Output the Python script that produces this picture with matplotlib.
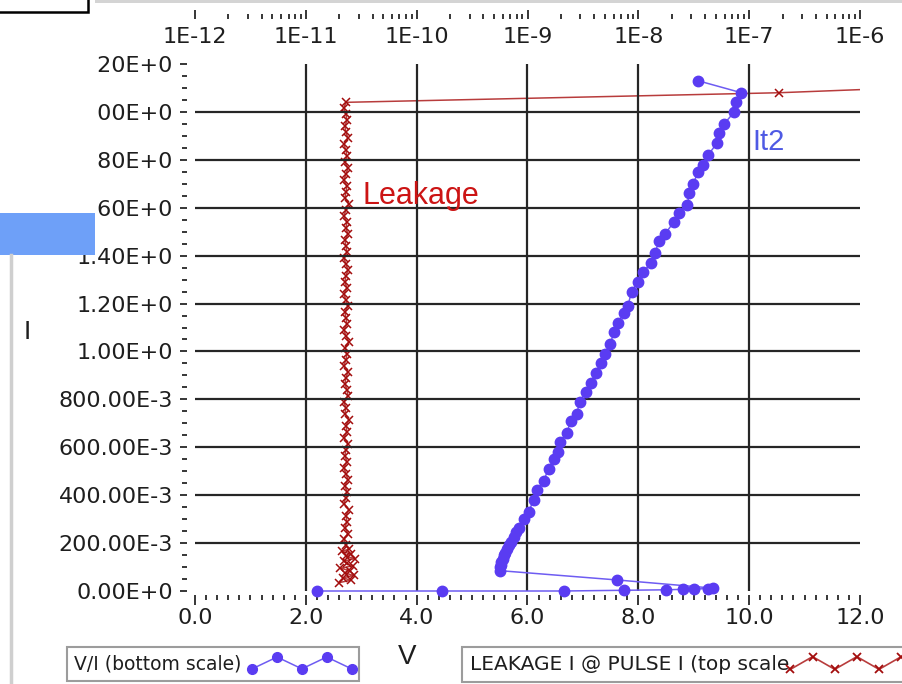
import numpy as np
import matplotlib
matplotlib.use("Agg")
import matplotlib.pyplot as plt
from matplotlib.lines import Line2D
from matplotlib.patches import Rectangle
from matplotlib.ticker import MultipleLocator, NullFormatter
from matplotlib.legend_handler import HandlerLine2D

# V/I curve (bottom scale): pulse voltage [V] vs pulse current [A]
vi_volts = [2.20, 4.45, 6.65, 7.75, 8.50, 8.80, 9.00, 9.25, 9.35, 7.62,
            5.50, 5.51, 5.52, 5.53, 5.55, 5.57, 5.60, 5.63, 5.66, 5.70,
            5.75, 5.80, 5.85, 5.93, 6.02, 6.11, 6.18, 6.29, 6.38, 6.47,
            6.55, 6.58, 6.71, 6.78, 6.89, 6.94, 7.05, 7.14, 7.23, 7.32,
            7.40, 7.49, 7.56, 7.63, 7.74, 7.81, 7.88, 7.99, 8.08, 8.23,
            8.30, 8.37, 8.48, 8.64, 8.73, 8.88, 8.92, 8.99, 9.08, 9.17,
            9.26, 9.42, 9.46, 9.55, 9.73, 9.76, 9.86, 9.08]
vi_amps = [0.000, 0.000, 0.000, 0.003, 0.005, 0.007, 0.008, 0.010, 0.012, 0.046,
           0.085, 0.100, 0.110, 0.120, 0.135, 0.150, 0.160, 0.175, 0.190, 0.205,
           0.225, 0.245, 0.265, 0.300, 0.330, 0.380, 0.420, 0.460, 0.510, 0.550,
           0.580, 0.620, 0.660, 0.710, 0.740, 0.790, 0.830, 0.870, 0.910, 0.950,
           0.990, 1.030, 1.080, 1.120, 1.160, 1.190, 1.250, 1.290, 1.330, 1.370,
           1.410, 1.460, 1.490, 1.540, 1.580, 1.610, 1.660, 1.700, 1.750, 1.780,
           1.820, 1.870, 1.910, 1.950, 2.000, 2.040, 2.080, 2.130]

# leakage current (top scale) [A] measured after each pulse current [A]
leak_pulse = [0.035, 0.045, 0.055, 0.065, 0.075, 0.085, 0.095, 0.105, 0.115, 0.125,
              0.135, 0.145, 0.155, 0.165, 0.175,
              0.190, 0.215, 0.240, 0.265, 0.290, 0.315, 0.340, 0.365, 0.390, 0.415,
              0.440, 0.465, 0.490, 0.515, 0.540, 0.565, 0.590, 0.615, 0.640, 0.665,
              0.690, 0.715, 0.740, 0.765, 0.790, 0.815, 0.840, 0.865, 0.890, 0.915,
              0.940, 0.965, 0.990, 1.015, 1.040, 1.065, 1.090, 1.115, 1.140, 1.165,
              1.190, 1.215, 1.240, 1.265, 1.290, 1.315, 1.340, 1.365, 1.390, 1.415,
              1.440, 1.465, 1.490, 1.515, 1.540, 1.565, 1.590, 1.615, 1.640, 1.665,
              1.690, 1.715, 1.740, 1.765, 1.790, 1.815, 1.840, 1.865, 1.890, 1.915,
              1.940, 1.965, 1.990, 2.015, 2.040,
              2.080, 2.130]
leak_amps = [2.00e-11, 2.55e-11, 2.15e-11, 2.70e-11, 2.25e-11, 2.50e-11, 2.05e-11, 2.65e-11, 2.35e-11, 2.20e-11,
             2.75e-11, 2.30e-11, 2.55e-11, 2.10e-11, 2.45e-11,
             2.30e-11, 2.20e-11, 2.40e-11, 2.25e-11, 2.35e-11, 2.30e-11, 2.45e-11, 2.20e-11, 2.30e-11, 2.35e-11,
             2.25e-11, 2.40e-11, 2.30e-11, 2.20e-11, 2.35e-11, 2.25e-11, 2.30e-11, 2.40e-11, 2.20e-11, 2.35e-11,
             2.30e-11, 2.45e-11, 2.25e-11, 2.30e-11, 2.20e-11, 2.40e-11, 2.35e-11, 2.25e-11, 2.30e-11, 2.40e-11,
             2.20e-11, 2.30e-11, 2.35e-11, 2.25e-11, 2.45e-11, 2.30e-11, 2.20e-11, 2.35e-11, 2.30e-11, 2.25e-11,
             2.40e-11, 2.30e-11, 2.20e-11, 2.35e-11, 2.25e-11, 2.30e-11, 2.40e-11, 2.30e-11, 2.20e-11, 2.35e-11,
             2.30e-11, 2.25e-11, 2.40e-11, 2.30e-11, 2.35e-11, 2.20e-11, 2.30e-11, 2.45e-11, 2.25e-11, 2.30e-11,
             2.35e-11, 2.20e-11, 2.30e-11, 2.40e-11, 2.25e-11, 2.35e-11, 2.30e-11, 2.20e-11, 2.40e-11, 2.30e-11,
             2.25e-11, 2.35e-11, 2.30e-11, 2.20e-11, 2.30e-11,
             1.85e-7, 1.2e-4]

x_ticks = [0, 2, 4, 6, 8, 10, 12]
x_labels = ["0.0", "2.0", "4.0", "6.0", "8.0", "10.0", "12.0"]
y_ticks = [0.0, 0.2, 0.4, 0.6, 0.8, 1.0, 1.2, 1.4, 1.6, 1.8, 2.0, 2.2]
y_labels = ["0.00E+0", "200.00E-3", "400.00E-3", "600.00E-3", "800.00E-3", "1.00E+0",
            "1.20E+0", "1.40E+0", "1.60E+0", "1.80E+0", "2.00E+0", "2.20E+0"]
top_ticks = [1e-12, 1e-11, 1e-10, 1e-9, 1e-8, 1e-7, 1e-6]
top_labels = ["1E-12", "1E-11", "1E-10", "1E-9", "1E-8", "1E-7", "1E-6"]

BLUE = "#5a3cf2"
BLUE_LINE = "#6e5cf2"
RED = "#a30d0d"
RED_LINE = "#b83c3c"
GRID = "#262626"
TXT = "#1e1e1e"

W, H = 903, 684
PX = 72 / 100  # points per pixel


class ZigZag(HandlerLine2D):
    # legend glyph: line with markers going up and down
    def __init__(self, n=5, **kw):
        super().__init__(**kw)
        self.n = n

    def create_artists(self, legend, orig_handle, xdescent, ydescent,
                       width, height, fontsize, trans):
        xs = np.linspace(-xdescent, width - xdescent, self.n)
        ys = np.where(np.arange(self.n) % 2 == 0, 0.05, 0.95) * height - ydescent
        line = Line2D(xs, ys)
        self.update_prop(line, orig_handle, legend)
        line.set_transform(trans)
        return [line]


fig = plt.figure(figsize=(W / 100, H / 100), dpi=100)
fig.patch.set_facecolor("white")
ax = fig.add_axes([195 / W, 1 - 591 / H, 665 / W, 527 / H])
ax2 = ax.twiny()

# bottom axis: V/I
ax.set_xlim(0, 12)
ax.set_ylim(0, 2.2)
for v in x_ticks[1:-1]:
    ax.axvline(v, color=GRID, lw=1.6, zorder=1)
for i in y_ticks[1:-1]:
    ax.axhline(i, color=GRID, lw=1.6, zorder=1)

ax.plot(vi_volts, vi_amps, color=BLUE_LINE, lw=1.1, marker="o", ms=7.5,
        mfc=BLUE, mec=BLUE, zorder=3, clip_on=False)

ax.set_xticks(x_ticks)
ax.set_xticklabels(x_labels)
ax.set_yticks(y_ticks)
ax.set_yticklabels(y_labels)
ax.xaxis.set_minor_locator(MultipleLocator(0.2))
ax.yaxis.set_minor_locator(MultipleLocator(0.05))
for s in ax.spines.values():
    s.set_color("none")
ax.spines["bottom"].set_position(("outward", 4 * PX))
ax.spines["left"].set_position(("outward", 8 * PX))
ax.tick_params(axis="x", which="major", length=10 * PX, width=1.3, color=GRID,
               pad=2, labelsize=16, labelcolor=TXT)
ax.tick_params(axis="x", which="minor", length=5 * PX, width=1.3, color=GRID)
ax.tick_params(axis="y", which="major", length=7 * PX, width=1.3, color=GRID,
               pad=5, labelsize=16, labelcolor=TXT)
ax.tick_params(axis="y", which="minor", length=5 * PX, width=1.3, color=GRID)

ax.set_xlabel("V", fontsize=20, family="Liberation Sans", color=TXT)
ax.xaxis.set_label_coords((407 - 195) / 665, (591 - 644) / 527)
ax.set_ylabel("I", fontsize=19, family="Liberation Sans", color=TXT,
              rotation=0, va="center")
ax.yaxis.set_label_coords((27 - 195) / 665, (591 - 332) / 527)

# top axis: leakage
ax2.set_xscale("log")
ax2.set_xlim(1e-12, 1e-6)
ax2.plot(leak_amps, leak_pulse, color=RED_LINE, lw=1.1, marker="x", ms=5.5,
         mec=RED, mew=1.1, zorder=2)
ax2.set_xticks(top_ticks)
ax2.set_xticklabels(top_labels)
ax2.xaxis.set_minor_formatter(NullFormatter())
for s in ax2.spines.values():
    s.set_color("none")
ax2.spines["top"].set_position(("outward", 45 * PX))
ax2.tick_params(axis="x", which="major", length=9 * PX, width=1.3, color=GRID,
                pad=-28 * PX - 9 * PX, labelsize=16, labelcolor=TXT)
ax2.tick_params(axis="x", which="minor", length=5 * PX, width=1.3, color=GRID)

ax.set_zorder(ax2.get_zorder() + 1)
ax.patch.set_visible(False)

ax.text(3.02, 1.65, "Leakage", color="#cc1414", fontsize=22,
        family="Liberation Sans", ha="left", va="center")
ax.text(10.05, 1.875, "It2", color="#4f5ae4", fontsize=21,
        family="Liberation Sans", ha="left", va="center")

# legends under the plot, glyph after the text
h_vi = Line2D([], [], color=BLUE_LINE, lw=1.1, marker="o", ms=7, mfc=BLUE, mec=BLUE)
h_lk = Line2D([], [], color=RED_LINE, lw=1.2, marker="x", ms=6, mec=RED, mew=1.3)
leg_kw = dict(loc="upper left", markerfirst=False, fancybox=False, framealpha=1,
              edgecolor="#9c9c9c", borderaxespad=0, borderpad=0.4)
leg1 = fig.legend([h_vi], ["V/I (bottom scale)"], bbox_to_anchor=(67 / W, 1 - 647 / H),
                  handler_map={h_vi: ZigZag(5)}, handlelength=5.3, handletextpad=0.55,
                  prop={"size": 13.5}, **leg_kw)
leg2 = fig.legend([h_lk], ["LEAKAGE I @ PULSE I (top scale"], bbox_to_anchor=(462 / W, 1 - 647 / H),
                  handler_map={h_lk: ZigZag(7)}, handlelength=6.6, handletextpad=0.05,
                  prop={"size": 14.5}, **leg_kw)
for lg in (leg1, leg2):
    lg.get_frame().set_linewidth(1.5)
    for t in lg.get_texts():
        t.set_color(TXT)

# screenshot leftovers at the left edge
fig.add_artist(Rectangle((0, 1 - 213 / H), 95 / W, 213 / H, transform=fig.transFigure,
                         facecolor="white", edgecolor="none", zorder=10))
fig.add_artist(Rectangle((0, 1 - 255 / H), 95 / W, 42 / H, transform=fig.transFigure,
                         facecolor="#6ea0f8", edgecolor="none", zorder=11))
fig.add_artist(Rectangle((-10 / W, 1 - 12 / H), 98 / W, 30 / H, transform=fig.transFigure,
                         facecolor="none", edgecolor="black", lw=1.8, zorder=12))
fig.add_artist(Rectangle((95 / W, 1 - 3 / H), 1, 3 / H, transform=fig.transFigure,
                         facecolor="#d4d4d4", edgecolor="none", zorder=12))
fig.add_artist(Line2D([11 / W, 11 / W], [0, 1 - 255 / H], transform=fig.transFigure,
                      color="#cfcfcf", lw=2.5, zorder=12))

fig.savefig("out.png", dpi=100)
